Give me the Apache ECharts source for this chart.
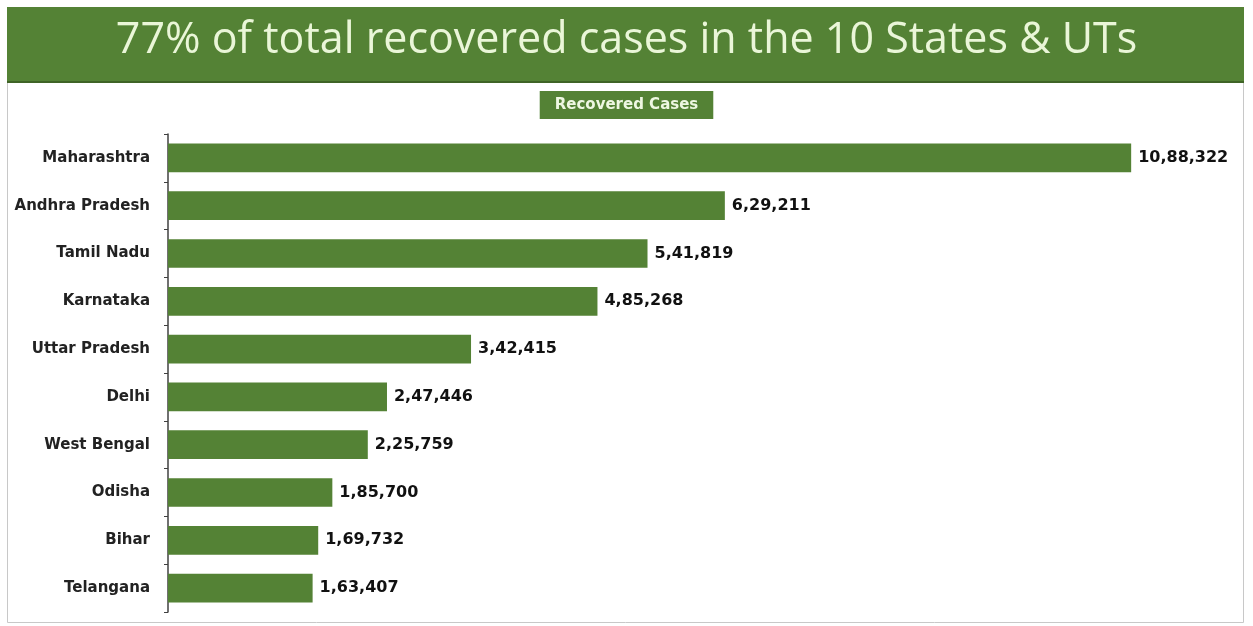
<!DOCTYPE html>
<html>
<head>
<meta charset="utf-8">
<title>Recovered Cases</title>
<script src="https://cdn.jsdelivr.net/npm/echarts@6/dist/echarts.min.js"></script>
<style>
  html, body { margin: 0; padding: 0; background: #fff; }
  #chart { width: 1253px; height: 626px; }
</style>
</head>
<body>
<div id="chart"></div>
<script>
// data
const states = ['Maharashtra', 'Andhra Pradesh', 'Tamil Nadu', 'Karnataka', 'Uttar Pradesh',
  'Delhi', 'West Bengal', 'Odisha', 'Bihar', 'Telangana'];
const recovered = [1088322, 629211, 541819, 485268, 342415, 247446, 225759, 185700, 169732, 163407];
const valueLabels = ['10,88,322', '6,29,211', '5,41,819', '4,85,268', '3,42,415',
  '2,47,446', '2,25,759', '1,85,700', '1,69,732', '1,63,407'];

const green = '#548235';
const boldFont = 'DejaVu Sans';

let chart = echarts.init(document.getElementById('chart'));
chart.setOption({
  animation: false,
  backgroundColor: '#fff',
  graphic: [
    // outer frame
    { type: 'rect', shape: { x: 7.5, y: 7.5, width: 1236, height: 615 },
      style: { fill: 'none', stroke: '#c8c8c8', lineWidth: 1 }, z: 0 },
    // header banner
    { type: 'rect', shape: { x: 7, y: 7, width: 1237, height: 75 },
      style: { fill: green }, z: 1 },
    { type: 'rect', shape: { x: 7, y: 81, width: 1237, height: 2 },
      style: { fill: '#3f6426' }, z: 1 }
  ],
  title: [
    {
      text: '77% of total recovered cases in the 10 States & UTs',
      left: 'center', top: 14,
      textStyle: { color: '#eaf6d8', fontSize: 43, fontWeight: 'normal', fontFamily: 'Open Sans' },
      z: 5
    },
    {
      text: 'Recovered Cases',
      left: 'center', top: 91,
      backgroundColor: green,
      padding: [7, 15, 6, 15],
      textStyle: { color: '#eef7e2', fontSize: 15, fontWeight: 'bold', fontFamily: boldFont }
    }
  ],
  grid: { left: 168, right: 23, top: 134, bottom: 14, containLabel: false },
  xAxis: {
    type: 'value', min: 0, max: 1200000,
    show: false
  },
  yAxis: {
    type: 'category',
    data: states,
    inverse: true,
    axisLine: { show: true, lineStyle: { color: '#404040', width: 1.5 } },
    axisTick: { show: true, length: 4, lineStyle: { color: '#404040' } },
    axisLabel: {
      color: '#222', fontSize: 15, fontWeight: 'bold', fontFamily: boldFont, margin: 18
    },
    splitLine: { show: false }
  },
  series: [{
    name: 'Recovered Cases',
    type: 'bar',
    data: recovered,
    barCategoryGap: '40%',
    itemStyle: { color: green },
    label: {
      show: true, position: 'right', distance: 7,
      color: '#111', fontSize: 16, fontWeight: 'bold', fontFamily: boldFont,
      formatter: p => valueLabels[p.dataIndex]
    }
  }]
});
window.addEventListener('resize', function () {
  chart.resize();
});
</script>
</body>
</html>
